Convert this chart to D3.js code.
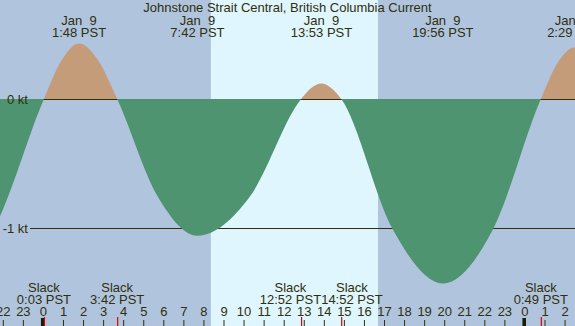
<!DOCTYPE html>
<html>
<head>
<meta charset="utf-8">
<script src="https://cdn.jsdelivr.net/npm/d3@7"></script>
<style>
body { margin: 0; background: #fff; }
svg { display: block; }
text { font-family: "Liberation Sans", Arial, sans-serif; font-size: 13px; fill: #2f2f0c; white-space: pre; }
</style>
</head>
<body>
<script>
const WIDTH = 575;
const HEIGHT = 326;

const title = 'Johnstone Strait Central, British Columbia Current';

// hours after midnight Jan 9 (PST) and current speed in knots
var curveHours = [-4.8, -2.4, 0.05, 0.93, 1.8, 2.75, 3.7, 5.7, 7.7, 10.3, 12.867, 13.37, 13.883, 14.37, 14.867, 17.4, 19.933, 22.4, 24.817, 25.65, 26.483, 28.4];
var curveKnots = [-1.4, -0.99, 0, 0.3, 0.43, 0.3, 0, -0.75, -1.06, -0.76, 0, 0.085, 0.12, 0.085, 0, -1.0, -1.43, -1.02, 0, 0.28, 0.4, 0];

var maxHours = [1.8, 7.7, 13.883, 19.933, 26.483];
var maxDates = ['Jan  9', 'Jan  9', 'Jan  9', 'Jan  9', 'Jan 10'];
var maxTimes = ['1:48 PST', '7:42 PST', '13:53 PST', '19:56 PST', '2:29 PST'];

var slackHours = [0.05, 3.7, 12.867, 14.867, 24.817];
var slackTimes = ['0:03 PST', '3:42 PST', '12:52 PST', '14:52 PST', '0:49 PST'];

var hourTicks = [-2, -1, 0, 1, 2, 3, 4, 5, 6, 7, 8, 9, 10, 11, 12, 13, 14, 15, 16, 17, 18, 19, 20, 21, 22, 23, 24, 25, 26];
var midnights = [0, 24];
var levels = [0, -1];
var levelLabels = ['0 kt', '-1 kt'];
var daylight = [8.37, 16.7];

var x = d3.scaleLinear().domain([-2.14, 26.52]).range([0, WIDTH]);
var y = d3.scaleLinear().domain([-1, 0]).range([228, 99]);

var points = curveHours.map(function(h, i) { return [h, curveKnots[i]]; });

var svg = d3.select('body').append('svg')
    .attr('width', WIDTH)
    .attr('height', HEIGHT);

var defs = svg.append('defs');
defs.append('clipPath').attr('id', 'above')
    .append('rect').attr('x', 0).attr('y', 0).attr('width', WIDTH).attr('height', y(0));
defs.append('clipPath').attr('id', 'below')
    .append('rect').attr('x', 0).attr('y', y(0)).attr('width', WIDTH).attr('height', HEIGHT - y(0));

// night / day background
svg.append('rect')
    .attr('width', WIDTH).attr('height', HEIGHT)
    .attr('fill', '#b0c4de');
svg.append('rect')
    .attr('x', x(daylight[0])).attr('y', 0)
    .attr('width', x(daylight[1]) - x(daylight[0])).attr('height', HEIGHT)
    .attr('fill', '#dff6fe');

var area = d3.area()
    .curve(d3.curveMonotoneX)
    .x(function(d) { return x(d[0]); })
    .y0(y(0))
    .y1(function(d) { return y(d[1]); });

// flood
svg.append('path')
    .attr('d', area(points))
    .attr('clip-path', 'url(#above)')
    .attr('fill', '#c49c7a');

// level lines
svg.selectAll('line.level')
    .data(levels)
    .enter()
    .append('line')
    .attr('class', 'level')
    .attr('x1', 30).attr('x2', WIDTH)
    .attr('y1', function(d) { return y(d) + 0.5; })
    .attr('y2', function(d) { return y(d) + 0.5; })
    .attr('stroke', '#2f2f0c')
    .attr('stroke-width', 1);

// ebb
svg.append('path')
    .attr('d', area(points))
    .attr('clip-path', 'url(#below)')
    .attr('fill', '#4f9471');

svg.selectAll('text.level')
    .data(levels)
    .enter()
    .append('text')
    .attr('class', 'level')
    .attr('x', 28)
    .attr('y', function(d) { return y(d) + 4.5; })
    .attr('text-anchor', 'end')
    .text(function(d, i) { return levelLabels[i]; });

svg.append('text')
    .attr('x', WIDTH / 2)
    .attr('y', 12)
    .attr('text-anchor', 'middle')
    .text(title);

var maxG = svg.selectAll('g.max')
    .data(maxHours)
    .enter()
    .append('g')
    .attr('class', 'max');
maxG.append('text')
    .attr('x', function(d) { return x(d); })
    .attr('y', 24.5)
    .attr('text-anchor', 'middle')
    .text(function(d, i) { return maxDates[i]; });
maxG.append('text')
    .attr('x', function(d) { return x(d); })
    .attr('y', 36.5)
    .attr('text-anchor', 'middle')
    .text(function(d, i) { return maxTimes[i]; });

var slackG = svg.selectAll('g.slack')
    .data(slackHours)
    .enter()
    .append('g')
    .attr('class', 'slack');
slackG.append('text')
    .attr('y', 292)
    .attr('text-anchor', 'middle')
    .text('Slack');
slackG.append('text')
    .attr('class', 'time')
    .attr('y', 304)
    .attr('text-anchor', 'middle')
    .text(function(d, i) { return slackTimes[i]; });

// push neighbouring slack labels apart so they only touch
var cx = slackHours.map(function(d) { return x(d); });
var widths = [];
slackG.select('text.time').each(function() { widths.push(this.getComputedTextLength()); });
for (var i = 0; i < cx.length - 1; i++) {
    var overlap = (cx[i] + widths[i] / 2) - (cx[i + 1] - widths[i + 1] / 2);
    if (overlap > 0) {
        cx[i] -= overlap / 2;
        cx[i + 1] += overlap / 2;
    }
}
slackG.attr('transform', function(d, i) { return 'translate(' + cx[i] + ',0)'; });

// hour axis
var axis = d3.axisTop(x)
    .tickValues(hourTicks)
    .tickSize(6)
    .tickPadding(4)
    .tickFormat(function(h) { return String((h + 24) % 24); });
var gAxis = svg.append('g')
    .attr('transform', 'translate(0,' + HEIGHT + ')')
    .call(axis);
gAxis.select('.domain').remove();
gAxis.selectAll('line').attr('stroke', '#2f2f0c');
gAxis.selectAll('text')
    .attr('font-family', null).attr('font-size', null)
    .attr('fill', null);

svg.selectAll('rect.midnight')
    .data(midnights)
    .enter()
    .append('rect')
    .attr('class', 'midnight')
    .attr('x', function(d) { return x(d) - 2; })
    .attr('y', 318)
    .attr('width', 3.5)
    .attr('height', 8)
    .attr('fill', '#1a1a05');

svg.selectAll('line.slack')
    .data(slackHours)
    .enter()
    .append('line')
    .attr('class', 'slack')
    .attr('x1', function(d) { return x(d) + 0.5; })
    .attr('x2', function(d) { return x(d) + 0.5; })
    .attr('y1', 317).attr('y2', HEIGHT)
    .attr('stroke', '#e00000')
    .attr('stroke-width', 1.2);
</script>
</body>
</html>
